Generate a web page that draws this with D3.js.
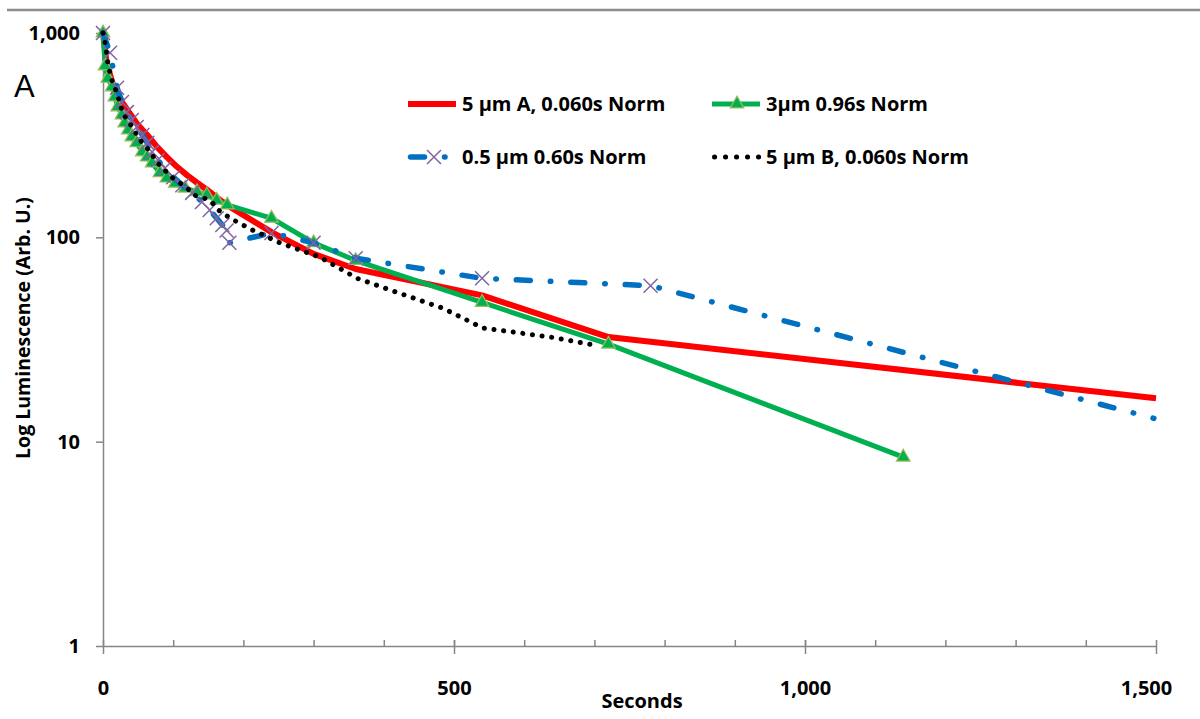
<!DOCTYPE html>
<html lang="en">
<head>
<meta charset="UTF-8">
<title>Log Luminescence decay</title>
<script src="https://cdnjs.cloudflare.com/ajax/libs/d3/7.8.5/d3.min.js"></script>
<style>
  body { margin: 0; background: #fff; }
  svg { display: block; font-family: "Open Sans", "Noto Sans", sans-serif; }
  .axis path, .axis line { stroke: #868686; stroke-width: 1.5px; }
  .axis text { font-size: 20px; font-weight: 700; fill: #000; font-family: "Open Sans", sans-serif; }
  .legend text { font-size: 20px; font-weight: 700; fill: #000; }
</style>
</head>
<body>
<div id="chart"></div>
<script>
// 5 um A, 0.060s Norm
const redSec = [0, 5, 13, 20, 28, 38, 50, 63, 77, 91, 105, 120, 134, 148, 167, 181, 240, 300, 360, 540, 720, 1500];
const redLum = [1000, 720, 575, 514, 454, 405, 354, 317, 277, 247, 222, 201, 185, 171, 152, 141, 106, 83, 70, 52, 32.5, 16.3];

// 3um 0.96s Norm
const greenSec = [0, 3, 7, 13, 17, 21, 27, 31, 36, 41, 48, 56, 63, 70, 81, 91, 103, 117, 134, 148, 162, 177, 240, 300, 360, 540, 720, 1140];
const greenLum = [1000, 690, 600, 545, 486, 435, 397, 363, 335, 310, 290, 262, 247, 231, 207, 195, 184, 174, 167, 161, 152, 144, 124, 94, 77, 48, 30, 8.4];

// 0.5 um 0.60s Norm
const blueSec = [0, 10, 20, 27, 34, 41, 48, 56, 63, 70, 78, 88, 100, 113, 127, 141, 152, 162, 170, 176, 180, 240, 300, 360, 540, 780, 1497];
const blueLum = [1000, 800, 540, 460, 410, 375, 347, 317, 290, 262, 239, 218, 197, 180, 165, 149, 136, 124, 115, 108, 94, 105, 94, 79, 63, 58, 13];

// 5 um B, 0.060s Norm
const blackSec = [0, 3, 7, 10, 14, 20, 24, 28, 38, 46, 53, 63, 70, 78, 88, 98, 110, 120, 128, 135, 145, 155, 162, 171, 185, 199, 212, 252, 309, 362, 404, 484, 541, 637, 705];
const blackLum = [1000, 894, 713, 637, 569, 508, 454, 405, 362, 327, 299, 273, 253, 231, 213, 197, 184, 174, 163, 158, 155, 149, 138, 131, 122, 115, 109, 94, 80, 63, 56, 45, 36, 32.5, 29.5];

const seriesNames = ["5 \u00b5m A, 0.060s Norm", "3\u00b5m 0.96s Norm", "0.5 \u00b5m 0.60s Norm", "5 \u00b5m B, 0.060s Norm"];
const xTicks = [0, 500, 1000, 1500];
const xMinorTicks = d3.range(100, 1500, 100);
const yTicks = [1, 10, 100, 1000];

const width = 1200, height = 719;

const x = d3.scaleLinear().domain([0, 1500]).range([103, 1156]);
const y = d3.scaleLog().domain([1, 1000]).range([646, 33]);

const svg = d3.select("#chart").append("svg")
    .attr("width", width)
    .attr("height", height);

// top rule
svg.append("line")
    .attr("x1", 7).attr("x2", width)
    .attr("y1", 10).attr("y2", 10)
    .attr("stroke", "#8c8c8c").attr("stroke-width", 2.5);

// axes
const fmt = d3.format(",");

svg.append("g")
    .attr("class", "axis")
    .attr("transform", "translate(0," + y(1) + ")")
    .call(d3.axisBottom(x).tickValues(xMinorTicks).tickSize(-6).tickFormat(""))
    .call(g => g.select(".domain").remove());

const xAxis = svg.append("g")
    .attr("class", "axis")
    .attr("transform", "translate(0," + y(1) + ")")
    .call(d3.axisBottom(x).tickValues(xTicks).tickSizeInner(8).tickSizeOuter(0).tickPadding(27).tickFormat(fmt));
xAxis.selectAll(".tick line").attr("y1", -6);
// excel nudges the last label inside the chart area
xAxis.selectAll(".tick text").filter(d => d === 1500).attr("dx", -10);

const yAxis = svg.append("g")
    .attr("class", "axis")
    .attr("transform", "translate(" + x(0) + ",0)")
    .call(d3.axisLeft(y).tickValues(yTicks).tickSizeInner(7).tickSizeOuter(0).tickPadding(16).tickFormat(fmt));

// axis titles
svg.append("text")
    .attr("x", 642).attr("y", 708)
    .attr("text-anchor", "middle")
    .style("font-size", "20px").style("font-weight", 700)
    .text("Seconds");

svg.append("text")
    .attr("transform", "translate(30,328) rotate(-90)")
    .attr("text-anchor", "middle")
    .style("font-size", "19.5px").style("font-weight", 700)
    .text("Log Luminescence (Arb. U.)");

svg.append("text")
    .attr("x", 14).attr("y", 97)
    .style("font-family", "'Liberation Sans', Arial, sans-serif")
    .style("font-size", "31px")
    .text("A");

// series
const line = d3.line()
    .x(d => x(d[0]))
    .y(d => y(d[1]));

const zip = (a, b) => a.map((v, i) => [v, b[i]]);

const series = [
    { name: seriesNames[0], data: zip(redSec, redLum), stroke: "#ff0000", width: 6, dash: null, marker: null },
    { name: seriesNames[1], data: zip(greenSec, greenLum), stroke: "#00b050", width: 5, dash: null, marker: "tri" },
    { name: seriesNames[2], data: zip(blueSec, blueLum), stroke: "#0070c0", width: 5.5, dash: "14,20,0.5,20", marker: "x" },
    { name: seriesNames[3], data: zip(blackSec, blackLum), stroke: "#000", width: 5, dash: "0.1,9.6", marker: null }
];

const tri = d3.symbol(d3.symbolTriangle).size(80);

function drawMarker(g, type, px, py) {
    if (type === "tri") {
        g.append("path")
            .attr("d", tri())
            .attr("transform", "translate(" + px + "," + py + ")")
            .attr("fill", "#00b050")
            .attr("stroke", "#9bbb59")
            .attr("stroke-width", 1.2);
    } else if (type === "x") {
        g.append("path")
            .attr("d", "M-7,-7L7,7M7,-7L-7,7")
            .attr("transform", "translate(" + px + "," + py + ")")
            .attr("fill", "none")
            .attr("stroke", "#8064a2")
            .attr("stroke-width", 1.5);
    }
}

const plot = svg.append("g");
series.forEach(s => {
    const g = plot.append("g");
    g.append("path")
        .datum(s.data)
        .attr("fill", "none")
        .attr("stroke", s.stroke)
        .attr("stroke-width", s.width)
        .attr("stroke-linejoin", "round")
        .attr("stroke-linecap", s.dash ? "round" : "butt")
        .attr("stroke-dasharray", s.dash)
        .attr("d", line);
    if (s.marker) {
        // the blue series has no marker on its last point
        const pts = s.marker === "x" ? s.data.slice(0, -1) : s.data;
        pts.forEach(d => drawMarker(g, s.marker, x(d[0]), y(d[1])));
    }
});

// legend
const legendPos = [
    { lx: 408, ty: 104 },
    { lx: 712, ty: 104 },
    { lx: 408, ty: 157 },
    { lx: 712, ty: 157 }
];

const legend = svg.append("g").attr("class", "legend");
series.forEach((s, i) => {
    const p = legendPos[i];
    const g = legend.append("g");
    const x1 = p.lx + (s.dash ? 2.5 : 0);
    g.append("line")
        .attr("x1", x1).attr("x2", p.lx + 48)
        .attr("y1", p.ty).attr("y2", p.ty)
        .attr("stroke", s.stroke)
        .attr("stroke-width", s.width)
        .attr("stroke-linecap", s.dash ? "round" : "butt")
        .attr("stroke-dasharray", s.dash ? (s.marker ? "14,20,0.5,20" : "0.1,10.9") : null);
    if (s.marker) drawMarker(g, s.marker, p.lx + (s.marker === "x" ? 26 : 25), p.ty);
    g.append("text")
        .attr("x", p.lx + 54)
        .attr("y", p.ty)
        .attr("dy", "0.36em")
        .text(s.name);
});
</script>
</body>
</html>
